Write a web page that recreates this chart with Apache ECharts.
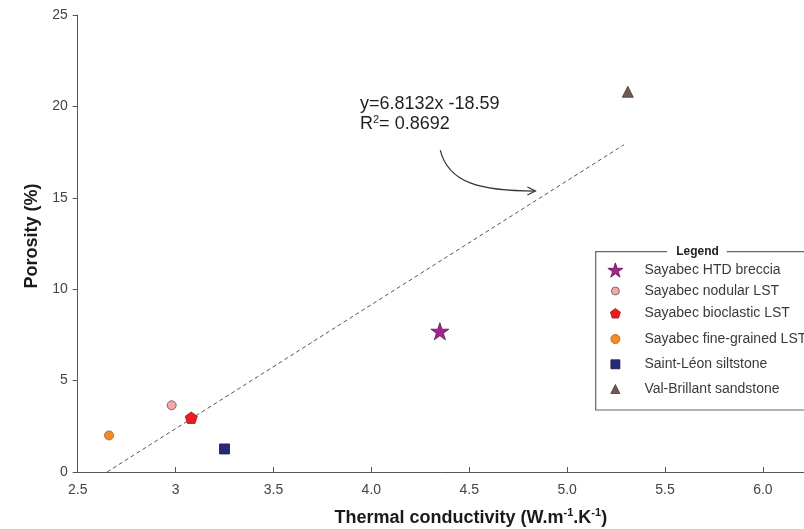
<!DOCTYPE html>
<html>
<head>
<meta charset="utf-8">
<script src="https://cdn.jsdelivr.net/npm/echarts@6/dist/echarts.min.js"></script>
<style>
html,body{margin:0;padding:0;background:#fff;}
#c{width:804px;height:529px;}
</style>
</head>
<body>
<div id="c"></div>
<script>
// ---- data ----
const categories = ['Sayabec HTD breccia','Sayabec nodular LST','Sayabec bioclastic LST','Sayabec fine-grained LST','Saint-Léon siltstone','Val-Brillant sandstone'];
const conductivity = [4.35, 2.98, 3.08, 2.66, 3.25, 5.31];
const porosity = [7.7, 3.65, 2.97, 2.0, 1.26, 20.8];
const trendX = [2.65, 5.29];
const trendY = [0, 17.9];
const xTickValues = [2.5, 3, 3.5, 4, 4.5, 5, 5.5, 6];
const xTickLabels = ['2.5', '3', '3.5', '4.0', '4.5', '5.0', '5.5', '6.0'];
const yTickValues = [0, 5, 10, 15, 20, 25];
const yTickLabels = ['0', '5', '10', '15', '20', '25'];
const arrowX = [4.352, 4.393, 4.557, 4.838];
const arrowY = [17.61, 15.81, 15.37, 15.37];

// ---- styles ----
const STAR = 'path://M50,0 L61.2,34.5 L97.6,34.5 L68.2,55.9 L79.4,90.5 L50,69.1 L20.6,90.5 L31.8,55.9 L2.4,34.5 L38.8,34.5 Z';
const PENT = 'path://M50,0 L97.6,34.5 L79.4,90.5 L20.6,90.5 L2.4,34.5 Z';
const styles = [
  {symbol: STAR, size: 18, legendSize: 15, color: '#a3248f', border: '#5a1450'},
  {symbol: 'circle', size: 9, legendSize: 8, color: '#f4a7a9', border: '#6a5050'},
  {symbol: PENT, size: 12, legendSize: 10, color: '#ec1c24', border: '#9a1010'},
  {symbol: 'circle', size: 9, legendSize: 9, color: '#f28c28', border: '#a65a14'},
  {symbol: 'rect', size: 10, legendSize: 9, color: '#272a7c', border: '#15174a'},
  {symbol: 'triangle', size: 11, legendSize: 9, color: '#6d5a53', border: '#4a3a35'}
];
const legendY = [270, 291, 313.3, 339, 364.3, 389];
const FONT = '"Liberation Sans", Arial, Helvetica, sans-serif';

const chart = echarts.init(document.getElementById('c'), null, {renderer: 'canvas'});

const series = categories.map((name, i) => ({
  type: 'scatter',
  name: name,
  data: [[conductivity[i], porosity[i]]],
  symbol: styles[i].symbol,
  symbolSize: styles[i].size,
  symbolKeepAspect: true,
  itemStyle: {color: styles[i].color, borderColor: styles[i].border, borderWidth: 0.8, opacity: 1},
  z: 5
}));
series.push({
  type: 'line',
  name: 'trend',
  data: trendX.map((x, i) => [x, trendY[i]]),
  symbol: 'none',
  silent: true,
  lineStyle: {color: '#555', width: 1, type: [4, 3]},
  z: 3
});

const legends = categories.map((name, i) => {
  const s = styles[i].legendSize;
  return {
    data: [{name: name, icon: styles[i].symbol}],
    orient: 'vertical',
    left: 615 - s / 2,
    top: legendY[i] - 8,
    padding: 0,
    itemWidth: s,
    itemHeight: s,
    selectedMode: false,
    itemStyle: {borderWidth: 0.8},
    textStyle: {fontFamily: FONT, fontSize: 14, color: '#3a3a3a', lineHeight: 16, padding: [0, 0, 0, 24 - s / 2]}
  };
});

chart.setOption({
  animation: false,
  backgroundColor: '#ffffff',
  grid: {left: 77.7, right: 0, top: 15, bottom: 57, containLabel: false, outerBoundsMode: 'none'},
  legend: legends,
  xAxis: {
    type: 'value',
    min: 2.5,
    max: 6.21,
    interval: 0.5,
    name: 'Thermal conductivity (W.m{s|-1}.K{s|-1})',
    nameLocation: 'middle',
    nameGap: 35,
    nameTextStyle: {
      fontFamily: FONT, fontSize: 18, fontWeight: 'bold', color: '#1a1a1a', lineHeight: 22,
      padding: [0, 0, 0, 60],
      rich: {s: {fontFamily: FONT, fontSize: 11, fontWeight: 'bold', color: '#1a1a1a', verticalAlign: 'top', lineHeight: 12}}
    },
    axisLine: {show: true, lineStyle: {color: '#555', width: 1}},
    axisTick: {show: true, inside: true, length: 5, lineStyle: {color: '#555'}, customValues: xTickValues},
    axisLabel: {
      customValues: xTickValues,
      margin: 11,
      fontFamily: FONT, fontSize: 14, color: '#444',
      formatter: v => { const k = xTickValues.findIndex(t => Math.abs(t - v) < 1e-6); return k >= 0 ? xTickLabels[k] : ''; }
    },
    splitLine: {show: false}
  },
  yAxis: {
    type: 'value',
    min: 0,
    max: 25,
    interval: 5,
    name: 'Porosity (%)',
    nameLocation: 'middle',
    nameGap: 36,
    nameTextStyle: {fontFamily: FONT, fontSize: 18, fontWeight: 'bold', color: '#1a1a1a', padding: [0, 0, 0, 15]},
    axisLine: {show: true, lineStyle: {color: '#555', width: 1}},
    axisTick: {show: true, inside: false, length: 5, lineStyle: {color: '#555'}},
    axisLabel: {
      margin: 10, fontFamily: FONT, fontSize: 14, color: '#444',
      formatter: v => { const k = yTickValues.indexOf(v); return k >= 0 ? yTickLabels[k] : ''; }
    },
    splitLine: {show: false}
  },
  series: series
});

// annotations: arrow (from data coords), equation text, legend frame
const p = arrowX.map((x, i) => chart.convertToPixel({gridIndex: 0}, [x, arrowY[i]]));
const end = p[3];
chart.setOption({
  graphic: [
    {
      type: 'bezierCurve',
      shape: {x1: p[0][0], y1: p[0][1], cpx1: p[1][0], cpy1: p[1][1], cpx2: p[2][0], cpy2: p[2][1], x2: end[0], y2: end[1]},
      style: {stroke: '#333', lineWidth: 1.2, fill: null},
      z: 10
    },
    {
      type: 'polyline',
      shape: {points: [[end[0] - 8, end[1] - 4], end, [end[0] - 8, end[1] + 4]]},
      style: {stroke: '#333', lineWidth: 1.2, fill: null},
      z: 10
    },
    {
      type: 'text',
      x: 360,
      y: 94,
      style: {
        text: 'y=6.8132x -18.59\nR{sup|2}= 0.8692',
        fontSize: 18,
        fontFamily: FONT,
        lineHeight: 20,
        fill: '#1f1f1f',
        rich: {sup: {fontSize: 11, fontFamily: FONT, fill: '#1f1f1f', verticalAlign: 'top', lineHeight: 12}}
      },
      z: 10
    },
    {
      type: 'polyline',
      shape: {points: [[667, 251.7], [595.7, 251.7], [595.7, 410], [810, 410]]},
      style: {stroke: '#666', lineWidth: 1.2, fill: null},
      z: 1
    },
    {
      type: 'line',
      shape: {x1: 726.7, y1: 251.7, x2: 810, y2: 251.7},
      style: {stroke: '#666', lineWidth: 1.2},
      z: 1
    },
    {
      type: 'text',
      x: 697.5,
      y: 252,
      style: {text: 'Legend', fontSize: 12, fontWeight: 'bold', fontFamily: FONT, fill: '#1f1f1f', align: 'center', verticalAlign: 'middle'},
      z: 10
    }
  ]
});
</script>
</body>
</html>
